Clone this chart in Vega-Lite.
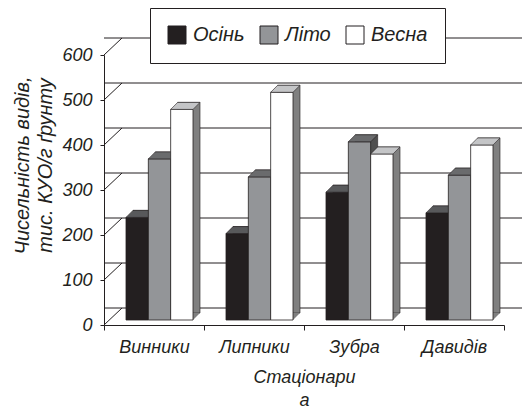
{
  "$schema": "https://vega.github.io/schema/vega-lite/v6.json",
  "width": 400,
  "height": 270,
  "autosize": {"type": "none"},
  "padding": {"left": 104, "top": 55, "right": 19, "bottom": 84},
  "background": "white",
  "config": {
    "view": {"stroke": null},
    "font": "Liberation Sans",
    "axis": {
      "grid": false,
      "domainColor": "#231f20",
      "tickColor": "#231f20",
      "labelFont": "Liberation Sans",
      "labelFontSize": 18,
      "labelFontStyle": "italic",
      "labelColor": "#231f20",
      "titleFont": "Liberation Sans",
      "titleFontSize": 18,
      "titleFontStyle": "italic",
      "titleFontWeight": "normal",
      "titleColor": "#231f20"
    },
    "axisX": {"labelAngle": 0, "tickBand": "extent", "tickSize": 5, "labelPadding": 8, "titlePadding": 12, "titleLineHeight": 23},
    "axisY": {"tickSize": 4, "labelPadding": 8, "labelFontStyle": "italic", "titlePadding": 6, "titleLineHeight": 23, "titleFontSize": 20, "titleY": 110},
    "legend": {
      "orient": "none",
      "legendX": 46,
      "legendY": -47,
      "direction": "horizontal",
      "gridAlign": "none",
      "symbolType": "square",
      "symbolSize": 324,
      "symbolStrokeColor": "#231f20",
      "symbolStrokeWidth": 1,
      "labelFont": "Liberation Sans",
      "labelFontSize": 20,
      "labelFontStyle": "italic",
      "labelColor": "#231f20",
      "labelOffset": 6,
      "columnPadding": 13,
      "padding": 17,
      "strokeColor": "#231f20",
      "fillColor": "white"
    }
  },
  "datasets": {
    "bars": [
      {"station": "Винники", "season": "Осінь", "value": 228},
      {"station": "Винники", "season": "Літо", "value": 358},
      {"station": "Винники", "season": "Весна", "value": 468},
      {"station": "Липники", "season": "Осінь", "value": 192},
      {"station": "Липники", "season": "Літо", "value": 318},
      {"station": "Липники", "season": "Весна", "value": 506},
      {"station": "Зубра", "season": "Осінь", "value": 284},
      {"station": "Зубра", "season": "Літо", "value": 396},
      {"station": "Зубра", "season": "Весна", "value": 369},
      {"station": "Давидів", "season": "Осінь", "value": 238},
      {"station": "Давидів", "season": "Літо", "value": 322},
      {"station": "Давидів", "season": "Весна", "value": 389}
    ],
    "ticks": [{"value": 0}, {"value": 100}, {"value": 200}, {"value": 300}, {"value": 400}, {"value": 500}, {"value": 600}]
  },
  "resolve": {"scale": {"xOffset": "independent"}},
  "layer": [
    {
      "data": {"name": "ticks"},
      "mark": {"type": "rule", "color": "#231f20", "strokeWidth": 1, "xOffset": 18, "x2Offset": 18, "yOffset": -17},
      "encoding": {
        "y": {"field": "value", "type": "quantitative", "scale": {"domain": [0, 600], "nice": false}}
      }
    },
    {
      "data": {"name": "ticks"},
      "mark": {"type": "rule", "color": "#231f20", "strokeWidth": 1, "y2Offset": -17},
      "encoding": {
        "y": {"field": "value", "type": "quantitative"},
        "y2": {"field": "value"},
        "x": {"value": 0},
        "x2": {"value": 18}
      }
    },
    {
      "data": {"name": "bars"},
      "mark": {"type": "rect", "yOffset": -12, "y2Offset": -12, "stroke": "#231f20", "strokeWidth": 0.6},
      "encoding": {
        "x": {"field": "station", "type": "nominal", "scale": {"domain": ["Винники", "Липники", "Зубра", "Давидів"], "paddingInner": 0, "paddingOuter": 0}},
        "xOffset": {"field": "season", "type": "nominal", "scale": {"type": "band", "domain": ["Осінь", "Літо", "Весна"], "range": [29, 96], "paddingInner": 0, "paddingOuter": 0}},
        "y": {"field": "value", "type": "quantitative"},
        "y2": {"datum": 0},
        "fill": {"condition": {"test": "datum.season === 'Весна'", "value": "#808080"}, "value": "#4f4f4f"}
      }
    },
    {
      "data": {"name": "bars"},
      "mark": {"type": "point", "shape": "M1.117,0L1.817,-0.7L1.117,-0.7Z", "size": 400, "filled": true, "opacity": 1, "yOffset": -5, "strokeWidth": 0},
      "encoding": {
        "x": {"field": "station", "type": "nominal"},
        "xOffset": {"field": "season", "type": "nominal", "scale": {"type": "band", "domain": ["Осінь", "Літо", "Весна"], "range": [22, 89], "paddingInner": 0, "paddingOuter": 0}},
        "y": {"datum": 0, "type": "quantitative"},
        "fill": {"condition": {"test": "datum.season === 'Весна'", "value": "#808080"}, "value": "#4f4f4f"}
      }
    },
    {
      "data": {"name": "bars"},
      "transform": [{"filter": "datum.season === 'Осінь'"}],
      "mark": {"type": "bar", "yOffset": -5, "y2Offset": -5, "stroke": "#231f20", "strokeWidth": 0.8},
      "encoding": {
        "x": {"field": "station", "type": "nominal", "title": ["Стаціонари", "а"]},
        "xOffset": {"field": "season", "type": "nominal", "scale": {"type": "band", "domain": ["Осінь", "Літо", "Весна"], "range": [22, 89], "paddingInner": 0, "paddingOuter": 0}},
        "y": {"field": "value", "type": "quantitative", "title": ["Чисельність видів,", "тис. КУО/г ґрунту"]},
        "y2": {"datum": 0},
        "color": {
          "field": "season", "type": "nominal",
          "scale": {"domain": ["Осінь", "Літо", "Весна"], "range": ["#231f20", "#939598", "#ffffff"]},
          "legend": {"title": null}
        }
      }
    },
    {
      "data": {"name": "bars"},
      "transform": [{"filter": "datum.season === 'Осінь'"}],
      "mark": {"type": "point", "shape": "M-1.117,0L1.117,0L1.817,-0.7L-0.417,-0.7Z", "size": 400, "filled": true, "opacity": 1, "fill": "#58595b", "stroke": "#231f20", "strokeWidth": 0.6, "yOffset": -5},
      "encoding": {
        "x": {"field": "station", "type": "nominal"},
        "xOffset": {"field": "season", "type": "nominal", "scale": {"type": "band", "domain": ["Осінь", "Літо", "Весна"], "range": [22, 89], "paddingInner": 0, "paddingOuter": 0}},
        "y": {"field": "value", "type": "quantitative"}
      }
    },
    {
      "data": {"name": "bars"},
      "transform": [{"filter": "datum.season === 'Літо'"}],
      "mark": {"type": "bar", "yOffset": -5, "y2Offset": -5, "stroke": "#231f20", "strokeWidth": 0.8},
      "encoding": {
        "x": {"field": "station", "type": "nominal"},
        "xOffset": {"field": "season", "type": "nominal", "scale": {"type": "band", "domain": ["Осінь", "Літо", "Весна"], "range": [22, 89], "paddingInner": 0, "paddingOuter": 0}},
        "y": {"field": "value", "type": "quantitative"},
        "y2": {"datum": 0},
        "color": {"field": "season", "type": "nominal"}
      }
    },
    {
      "data": {"name": "bars"},
      "transform": [{"filter": "datum.season === 'Літо'"}],
      "mark": {"type": "point", "shape": "M-1.117,0L1.117,0L1.817,-0.7L-0.417,-0.7Z", "size": 400, "filled": true, "opacity": 1, "fill": "#6a6b6d", "stroke": "#231f20", "strokeWidth": 0.6, "yOffset": -5},
      "encoding": {
        "x": {"field": "station", "type": "nominal"},
        "xOffset": {"field": "season", "type": "nominal", "scale": {"type": "band", "domain": ["Осінь", "Літо", "Весна"], "range": [22, 89], "paddingInner": 0, "paddingOuter": 0}},
        "y": {"field": "value", "type": "quantitative"}
      }
    },
    {
      "data": {"name": "bars"},
      "transform": [{"filter": "datum.season === 'Весна'"}],
      "mark": {"type": "bar", "yOffset": -5, "y2Offset": -5, "stroke": "#231f20", "strokeWidth": 0.8},
      "encoding": {
        "x": {"field": "station", "type": "nominal"},
        "xOffset": {"field": "season", "type": "nominal", "scale": {"type": "band", "domain": ["Осінь", "Літо", "Весна"], "range": [22, 89], "paddingInner": 0, "paddingOuter": 0}},
        "y": {"field": "value", "type": "quantitative"},
        "y2": {"datum": 0},
        "color": {"field": "season", "type": "nominal"}
      }
    },
    {
      "data": {"name": "bars"},
      "transform": [{"filter": "datum.season === 'Весна'"}],
      "mark": {"type": "point", "shape": "M-1.117,0L1.117,0L1.817,-0.7L-0.417,-0.7Z", "size": 400, "filled": true, "opacity": 1, "fill": "#c4c5c7", "stroke": "#231f20", "strokeWidth": 0.6, "yOffset": -5},
      "encoding": {
        "x": {"field": "station", "type": "nominal"},
        "xOffset": {"field": "season", "type": "nominal", "scale": {"type": "band", "domain": ["Осінь", "Літо", "Весна"], "range": [22, 89], "paddingInner": 0, "paddingOuter": 0}},
        "y": {"field": "value", "type": "quantitative"}
      }
    }
  ]
}
